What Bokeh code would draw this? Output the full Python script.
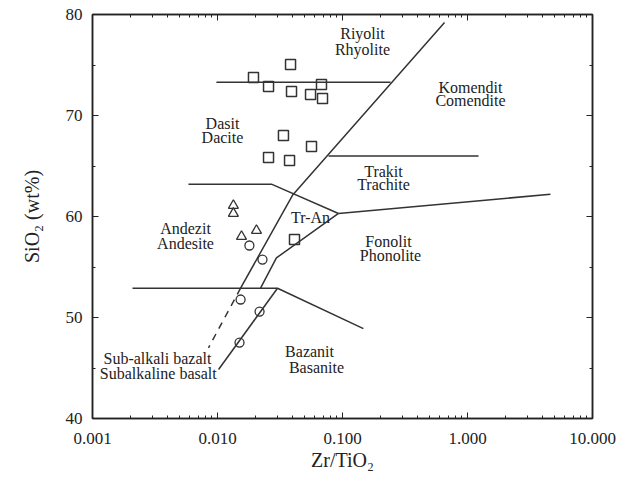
from bokeh.plotting import figure
from bokeh.models import (LogAxis, LinearAxis, FixedTicker, SingleIntervalTicker,
                          CustomJSTickFormatter, Range1d)
from bokeh.core.properties import value
from bokeh.embed import file_html
from bokeh.resources import INLINE

# ---- data ----
# boundary lines (Zr/TiO2, SiO2)
rhy_dac_x = [0.0098, 0.242]
rhy_dac_y = [73.3, 73.3]
main_x = [0.655, 0.0398, 0.0153]
main_y = [79.2, 62.1, 52.9]
dash_x = [0.0153, 0.00847]
dash_y = [52.9, 47.0]
trach_x = [0.0773, 1.225]
trach_y = [66.0, 66.0]
andes_x = [0.00586, 0.0270, 0.0929]
andes_y = [63.2, 63.2, 60.3]
phon_up_x = [0.0929, 4.61]
phon_up_y = [60.3, 62.2]
tran_low_x = [0.0929, 0.0296, 0.0221]
tran_low_y = [60.3, 55.9, 52.9]
bas_x = [0.00209, 0.0302, 0.147]
bas_y = [52.9, 52.9, 48.9]
subalk_x = [0.0302, 0.0102]
subalk_y = [52.9, 44.85]

# samples
sq_x = [0.0194, 0.0384, 0.0256, 0.0391, 0.0555, 0.0692, 0.0679, 0.0337, 0.0565, 0.0256, 0.0377, 0.0413]
sq_y = [73.76, 75.05, 72.87, 72.38, 72.08, 71.68, 73.07, 68.02, 66.93, 65.84, 65.54, 57.72]
tri_x = [0.0134, 0.0134, 0.0205, 0.01556]
tri_y = [61.09, 60.30, 58.61, 58.02]
cir_x = [0.0180, 0.0229, 0.0153, 0.0217, 0.0150]
cir_y = [57.13, 55.74, 51.78, 50.59, 47.52]

# field labels
lab_text = ["Riyolit", "Rhyolite", "Komendit", "Comendite", "Dasit", "Dacite",
            "Trakit", "Trachite", "Tr-An", "Andezit", "Andesite", "Fonolit", "Phonolite",
            "Bazanit", "Basanite", "Sub-alkali bazalt", "Subalkaline basalt"]
lab_x = [0.1445, 0.1445, 1.057, 1.057, 0.01096, 0.01096, 0.2128, 0.2128, 0.0555,
         0.00555, 0.00555, 0.2333, 0.2421, 0.0545, 0.0619, 0.00331, 0.00336]
lab_y = [78.12, 76.53, 72.77, 71.49, 69.21, 67.82, 64.46, 63.17, 59.90,
         58.81, 57.33, 57.52, 56.14, 46.63, 45.05, 45.94, 44.46]

x_ticks = [0.001, 0.01, 0.1, 1.0, 10.0]
y_ticks = [40, 50, 60, 70, 80]

# ---- figure ----
p = figure(width=618, height=480, x_axis_type="log",
           x_range=Range1d(0.001, 10), y_range=Range1d(40, 80),
           output_backend="svg", toolbar_location=None,
           min_border_left=92, min_border_right=26, min_border_top=14, min_border_bottom=62)
p.grid.visible = False
p.outline_line_color = "#222222"
p.outline_line_width = 1.5

minor = [m * d for d in [0.001, 0.01, 0.1, 1.0] for m in range(2, 10)]
fmt = CustomJSTickFormatter(code="return tick.toFixed(3);")

FONT = "Liberation Serif"
TXT = "#222222"

def style_axis(ax, labels=True):
    ax.major_tick_in = 6
    ax.major_tick_out = 0
    ax.minor_tick_in = 3
    ax.minor_tick_out = 0
    ax.axis_line_color = "#222222"
    ax.axis_line_width = 1.5
    ax.major_tick_line_color = "#222222"
    ax.minor_tick_line_color = "#222222"
    ax.major_label_text_font = FONT
    ax.major_label_text_color = TXT
    ax.axis_label_text_font = FONT
    ax.axis_label_text_font_style = "normal"
    ax.axis_label_text_font_size = "20px"
    ax.axis_label_text_color = TXT
    if labels:
        ax.major_label_text_font_size = "17px"
    else:
        ax.major_label_text_font_size = "1px"
        ax.major_label_text_alpha = 0
        ax.major_label_standoff = 0

xa = p.xaxis[0]
xa.ticker = FixedTicker(ticks=x_ticks, minor_ticks=minor)
xa.formatter = fmt
xa.axis_label = "Zr/TiO₂"
style_axis(xa)
xa.major_label_standoff = 14
xa.axis_label_standoff = 2

ya = p.yaxis[0]
ya.ticker = SingleIntervalTicker(interval=10, num_minor_ticks=2)
ya.axis_label = "SiO₂ (wt%)"
style_axis(ya)
ya.major_label_standoff = 10
ya.axis_label_standoff = 20

top = LogAxis(ticker=FixedTicker(ticks=x_ticks, minor_ticks=minor))
style_axis(top, labels=False)
p.add_layout(top, "above")
right = LinearAxis(ticker=SingleIntervalTicker(interval=10, num_minor_ticks=2))
style_axis(right, labels=False)
p.add_layout(right, "right")

LC = "#333333"
LW = 1.5
for xs, ys in [(rhy_dac_x, rhy_dac_y), (main_x, main_y), (trach_x, trach_y),
               (andes_x, andes_y), (phon_up_x, phon_up_y), (tran_low_x, tran_low_y),
               (bas_x, bas_y), (subalk_x, subalk_y)]:
    p.line(xs, ys, line_color=LC, line_width=LW)
p.line(dash_x, dash_y, line_color=LC, line_width=LW, line_dash="7 6")

p.scatter(sq_x, sq_y, marker="square", size=10, fill_color=None, line_color=LC, line_width=1.5)
p.scatter(tri_x, tri_y, marker="triangle", size=10, fill_color=None, line_color=LC, line_width=1.3)
p.scatter(cir_x, cir_y, marker="circle", size=9, fill_color=None, line_color=LC, line_width=1.3)

p.text(lab_x, lab_y, text=lab_text, text_font=value(FONT), text_font_size="16px",
       text_align="center", text_baseline="middle", text_color=TXT)

open("out.html", "w").write(file_html(p, INLINE))
